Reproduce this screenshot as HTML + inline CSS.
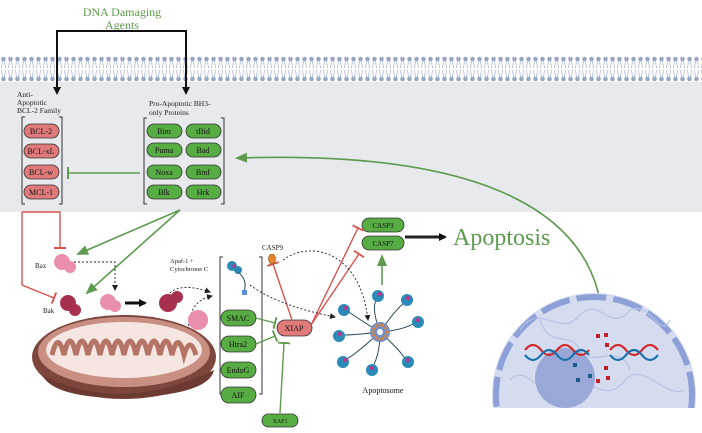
<!DOCTYPE html>
<html><head><meta charset="utf-8"><style>
html,body{margin:0;padding:0;background:#fff;width:702px;height:433px;overflow:hidden}
svg{display:block;font-family:"Liberation Serif",serif}
</style></head><body>
<svg width="702" height="433" viewBox="0 0 702 433" xmlns="http://www.w3.org/2000/svg">
<defs>
<marker id="ab" markerWidth="8" markerHeight="8" refX="6" refY="4" orient="auto" markerUnits="userSpaceOnUse"><path d="M0,0 L8,4 L0,8z" fill="#111"/></marker>
<marker id="ag" markerWidth="12" markerHeight="10" refX="10" refY="5" orient="auto" markerUnits="userSpaceOnUse"><path d="M0,0 L12,5 L0,10z" fill="#5e9a4e"/></marker>
<marker id="ad" markerWidth="6" markerHeight="6" refX="5" refY="3" orient="auto" markerUnits="userSpaceOnUse"><path d="M0,0 L6,3 L0,6z" fill="#222"/></marker>
<marker id="tg" markerWidth="2" markerHeight="12" refX="1" refY="6" orient="auto" markerUnits="userSpaceOnUse"><rect x="0" y="0" width="2" height="12" fill="#5e9a4e"/></marker>
<marker id="tr" markerWidth="2" markerHeight="12" refX="1" refY="6" orient="auto" markerUnits="userSpaceOnUse"><rect x="0" y="0" width="2" height="12" fill="#d9534f"/></marker>
<pattern id="mem" width="7" height="26" patternUnits="userSpaceOnUse" x="0" y="56">
<circle cx="3.5" cy="3" r="2.3" fill="#98a7c4"/><circle cx="3.5" cy="23" r="2.3" fill="#98a7c4"/>
<path d="M2.5,5 L1.5,12 M4.5,5 L5.5,12 M2.5,21 L1.5,14 M4.5,21 L5.5,14" stroke="#aab7d0" stroke-width="0.8"/>
</pattern>
<clipPath id="nc"><rect x="480" y="280" width="222" height="128"/></clipPath>
</defs>
<rect x="0" y="82" width="702" height="130" fill="#e8e9ed"/>
<rect x="0" y="56" width="702" height="26" fill="url(#mem)"/>
<text x="122" y="16" text-anchor="middle" font-size="12" fill="#5e9a4e">DNA Damaging</text>
<text x="122" y="29" text-anchor="middle" font-size="12" fill="#5e9a4e">Agents</text>
<path d="M57,93 V31 H186 V93" fill="none" stroke="#111" stroke-width="2" marker-end="url(#ab)"/>
<path d="M57,40 V93" stroke="#111" stroke-width="2" marker-end="url(#ab)"/>
<text font-size="7.5" fill="#222"><tspan x="17" y="97">Anti-</tspan><tspan x="17" y="105">Apoptotic</tspan><tspan x="17" y="113">BCL-2 Family</tspan></text>
<text font-size="7.5" fill="#222"><tspan x="149" y="106">Pro-Apoptotic BH3-</tspan><tspan x="149" y="115">only Proteins</tspan></text>
<g fill="none" stroke="#333" stroke-width="1">
<path d="M25,117 H22 V204 H25 M59,117 H62 V204 H59"/>
<path d="M147,118 H144 V204 H147 M221,118 H224 V204 H221"/>
<path d="M223,257 H220 V394 H223 M259,257 H262 V394 H259"/>
</g>
<g font-size="8" text-anchor="middle" fill="#111" stroke="#333" stroke-width="0.8">
<g fill="#e07a7a"><rect x="24" y="124" width="35" height="14" rx="7"/><rect x="24" y="144" width="35" height="14" rx="7"/><rect x="24" y="165" width="35" height="14" rx="7"/><rect x="24" y="185" width="35" height="14" rx="7"/></g>
<g fill="#58ac44"><rect x="147" y="124" width="35" height="14" rx="7"/><rect x="186" y="124" width="35" height="14" rx="7"/><rect x="147" y="143" width="35" height="14" rx="7"/><rect x="186" y="143" width="35" height="14" rx="7"/><rect x="147" y="165" width="35" height="14" rx="7"/><rect x="186" y="165" width="35" height="14" rx="7"/><rect x="147" y="185" width="35" height="14" rx="7"/><rect x="186" y="185" width="35" height="14" rx="7"/>
<rect x="221" y="310" width="35" height="16" rx="8"/><rect x="221" y="336" width="35" height="16" rx="8"/><rect x="221" y="362" width="35" height="16" rx="8"/><rect x="221" y="387" width="35" height="16" rx="8"/>
<rect x="262" y="414" width="36" height="13" rx="6.5"/><rect x="362" y="218" width="42" height="14" rx="7"/><rect x="362" y="236" width="42" height="14" rx="7"/></g>
<rect x="277" y="320" width="35" height="16" rx="8" fill="#e07a7a"/>
</g>
<g font-size="8" text-anchor="middle" fill="#111">
<text x="41" y="134">BCL-2</text><text x="41" y="154">BCL-xL</text><text x="41" y="175">BCL-w</text><text x="41" y="195">MCL-1</text>
<text x="164" y="134">Bim</text><text x="203" y="134">tBid</text><text x="164" y="153">Puma</text><text x="203" y="153">Bad</text><text x="164" y="175">Noxa</text><text x="203" y="175">Bmf</text><text x="164" y="195">Blk</text><text x="203" y="195">Hrk</text>
<text x="238" y="321">SMAC</text><text x="238" y="347">Htra2</text><text x="238" y="373">EndoG</text><text x="238" y="398">AIF</text>
<text x="294" y="331">XIAP</text><text x="280" y="423" font-size="6">XAF1</text>
<text x="383" y="228" font-size="7">CASP3</text><text x="383" y="246" font-size="7">CASP7</text>
<text x="383" y="393" font-size="8">Apoptosome</text>
</g>
<text x="170" y="263" font-size="6.5" fill="#222">Apaf-1 +</text><text x="170" y="271" font-size="6.5" fill="#222">Cytochrome C</text>
<text x="262" y="250" font-size="7" fill="#222">CASP9</text>
<text x="35" y="268" font-size="7" fill="#222">Bax</text><text x="43" y="313" font-size="7" fill="#222">Bak</text>
<text x="453" y="245" font-size="24" fill="#5e9a4e">Apoptosis</text>
<path d="M140,173 H68" stroke="#5e9a4e" stroke-width="1.6" marker-end="url(#tg)"/>
<path d="M603,332 C603,210 480,150 237,158" fill="none" stroke="#5e9a4e" stroke-width="1.6" marker-end="url(#ag)"/>
<path d="M180,210 L78,254" stroke="#5e9a4e" stroke-width="1.6" marker-end="url(#ag)"/>
<path d="M180,210 L87,293" stroke="#5e9a4e" stroke-width="1.6" marker-end="url(#ag)"/>
<path d="M256,318 L275,323" stroke="#5e9a4e" stroke-width="1.4" marker-end="url(#tg)"/>
<path d="M256,344 L275,336" stroke="#5e9a4e" stroke-width="1.4" marker-end="url(#tg)"/>
<path d="M280,413 L284,343" stroke="#5e9a4e" stroke-width="1.4" marker-end="url(#tg)"/>
<path d="M382,285 V256" stroke="#5e9a4e" stroke-width="1.6" marker-end="url(#ag)"/>
<path d="M22,212 H60 V248" fill="none" stroke="#d9534f" stroke-width="1.4" marker-end="url(#tr)"/>
<path d="M22,212 V285 L54,298" fill="none" stroke="#d9534f" stroke-width="1.4" marker-end="url(#tr)"/>
<path d="M292,320 L273,264" stroke="#d9534f" stroke-width="1.4" marker-end="url(#tr)"/>
<path d="M311,325 L358,228" stroke="#d9534f" stroke-width="1.4" marker-end="url(#tr)"/>
<path d="M311,325 L359,254" stroke="#d9534f" stroke-width="1.4" marker-end="url(#tr)"/>
<path d="M125,303 H145" stroke="#111" stroke-width="3" marker-end="url(#ab)"/>
<path d="M405,237 H445" stroke="#222" stroke-width="3" marker-end="url(#ab)"/>
<g fill="none" stroke="#222" stroke-width="0.9" stroke-dasharray="2,2">
<path d="M74,262 H115 V290" marker-end="url(#ad)"/>
<path d="M166,300 C170,285 190,285 210,292" marker-end="url(#ad)"/>
<path d="M188,330 C190,310 195,300 212,296" marker-end="url(#ad)"/>
<path d="M250,285 C270,300 300,310 335,317" marker-end="url(#ad)"/>
<path d="M283,260 C310,240 360,250 368,320" marker-end="url(#ad)"/>
</g>
<ellipse cx="124" cy="357" rx="92" ry="42" fill="#7d463c"/>
<ellipse cx="124" cy="352" rx="86" ry="35" fill="#c98f82"/>
<ellipse cx="124" cy="350" rx="78" ry="28" fill="#f5e6e2"/>
<path d="M52,355 q6,-25 12,0 q6,-28 12,0 q6,-28 12,0 q6,-28 12,0 q6,-28 12,0 q6,-28 12,0 q6,-28 12,0 q6,-28 12,0 q6,-28 12,0 q6,-28 12,0 q6,-25 12,0 q6,-20 12,0" fill="none" stroke="#b57466" stroke-width="5"/>
<path d="M42,375 q80,40 172,-5 q-5,25 -90,28 q-70,0 -82,-23z" fill="#6b3a31"/>
<g fill="#e98fab"><circle cx="62" cy="262" r="8"/><circle cx="70" cy="267" r="6"/><circle cx="108" cy="302" r="8"/><circle cx="115" cy="306" r="6"/><circle cx="198" cy="320" r="10"/></g>
<g fill="#a8304f"><circle cx="68" cy="303" r="8"/><circle cx="75" cy="310" r="6"/><circle cx="168" cy="303" r="9"/><circle cx="177" cy="297" r="6"/></g>
<circle cx="232" cy="266" r="5" fill="#2b8ab8"/><circle cx="238" cy="270" r="4" fill="#2b8ab8"/><circle cx="234" cy="266" r="1.6" fill="#c2328a"/>
<path d="M238,272 Q248,280 244,292" fill="none" stroke="#2b4a5a" stroke-width="1"/><rect x="242" y="290" width="5" height="5" fill="#5b8fd8"/>
<ellipse cx="272" cy="259" rx="3.5" ry="5" fill="#e8842c" stroke="#8a4a10" stroke-width="0.6"/>
<g stroke="#2b4a5a" stroke-width="1" fill="none">
<path d="M380,332 Q360,320 346,310 M380,332 Q370,305 378,298 M380,332 Q395,310 405,302 M380,332 Q405,330 416,322 M380,332 Q400,350 406,360 M380,332 Q380,355 372,368 M380,332 Q355,355 345,360 M380,332 Q355,335 342,335"/>
</g>
<g fill="#2b8ab8">
<circle cx="344" cy="310" r="6"/><circle cx="378" cy="296" r="6"/><circle cx="407" cy="300" r="6"/><circle cx="418" cy="322" r="6"/><circle cx="408" cy="362" r="6"/><circle cx="372" cy="370" r="6"/><circle cx="343" cy="362" r="6"/><circle cx="339" cy="336" r="6"/>
</g>
<g fill="#c2328a"><circle cx="346" cy="308" r="2"/><circle cx="380" cy="294" r="2"/><circle cx="408" cy="298" r="2"/><circle cx="418" cy="320" r="2"/><circle cx="408" cy="360" r="2"/><circle cx="372" cy="368" r="2"/><circle cx="345" cy="360" r="2"/><circle cx="340" cy="334" r="2"/></g>
<circle cx="380" cy="332" r="10" fill="#6e8fd0"/><circle cx="380" cy="332" r="7" fill="none" stroke="#e8842c" stroke-width="3" stroke-dasharray="2,1.5"/><circle cx="380" cy="332" r="3" fill="#fff"/>
<g clip-path="url(#nc)">
<circle cx="594" cy="395" r="102" fill="#d5dcf0"/>
<circle cx="594" cy="395" r="98" fill="none" stroke="#8ea0d8" stroke-width="6" stroke-dasharray="30,7"/>
<g fill="none" stroke="#b7c3e6" stroke-width="1.2">
<path d="M520,330 c20,-30 40,10 60,-15 c20,-20 30,20 50,-5 c20,-10 30,30 40,10 M510,380 c20,-20 30,30 55,0 c10,-15 40,30 60,0 c20,-20 40,20 60,10 M540,320 c10,30 30,10 40,30 c10,20 40,-10 50,20"/>
</g>
<circle cx="565" cy="378" r="30" fill="#9aa8d8"/>
<g stroke-width="2.2" fill="none">
<path d="M525,350 q8,-10 16,0 t16,0 t16,0 t16,0" stroke="#d22a2a"/>
<path d="M525,355 q8,10 16,0 t16,0 t16,0 t16,0" stroke="#1b6fa8"/>
<path d="M610,350 q8,-10 16,0 t16,0 t16,0" stroke="#d22a2a"/>
<path d="M610,355 q8,10 16,0 t16,0 t16,0" stroke="#1b6fa8"/>
</g>
<g fill="#c0202a"><rect x="596" y="334" width="4" height="4"/><rect x="604" y="333" width="4" height="4"/><rect x="605" y="343" width="4" height="4"/><rect x="604" y="366" width="4" height="4"/><rect x="596" y="379" width="4" height="4"/><rect x="606" y="376" width="4" height="4"/></g>
<g fill="#1b5a8a"><rect x="573" y="363" width="4" height="4"/><rect x="588" y="374" width="4" height="4"/><rect x="576" y="378" width="4" height="4"/></g>
</g>
</svg>
</body></html>
